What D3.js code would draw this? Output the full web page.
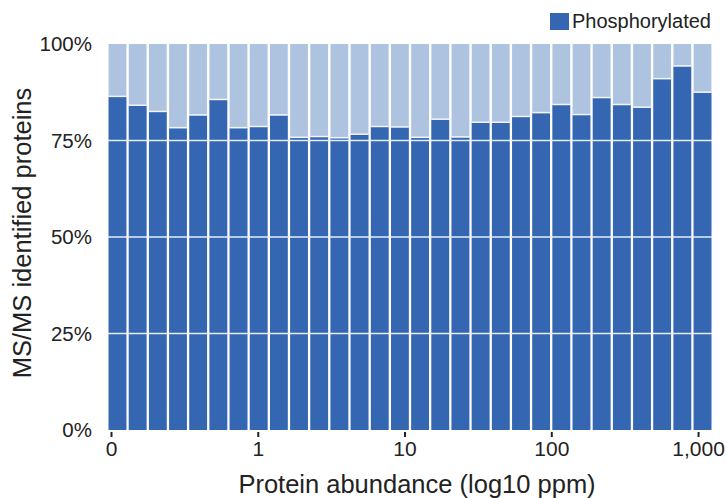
<!DOCTYPE html>
<html>
<head>
<meta charset="utf-8">
<script src="https://cdn.jsdelivr.net/npm/d3@7"></script>
<style>
  body { margin: 0; background: #fff; }
  svg { font-family: "Liberation Sans", Arial, sans-serif; }
</style>
</head>
<body>
<svg id="viz" width="727" height="498"></svg>
<script>
// share of MS/MS identified proteins that are phosphorylated, per abundance bin (%)
const phospho = [86.3, 84.0, 82.4, 78.2, 81.5, 85.5, 78.2, 78.5, 81.5, 75.7,
  75.9, 75.6, 76.5, 78.5, 78.4, 75.7, 80.4, 75.8, 79.6, 79.6,
  81.1, 82.1, 84.2, 81.6, 86.0, 84.2, 83.5, 90.9, 94.2, 87.4];
const yTicks = [0, 25, 50, 75, 100];
const xTickValues = [0.1, 1, 10, 100, 1000];
const xTickLabels = ["0", "1", "10", "100", "1,000"];
const legendLabel = "Phosphorylated";

const darkBlue = "#3566b1";
const lightBlue = "#adc3df";

const svg = d3.select("#viz");
const margin = { left: 108, right: 15, top: 44, bottom: 68 };
const width = 727, height = 498;

const band = d3.scaleBand()
  .domain(d3.range(phospho.length))
  .range([margin.left, width - margin.right])
  .paddingInner(0.12)
  .paddingOuter(0.03);

// log axis: 0.1 sits at x=111, 1000 at x=698
const x = d3.scaleLog()
  .domain([Math.pow(10, -1.0204), Math.pow(10, 3.095)])
  .range([margin.left, width - margin.right]);

const y = d3.scaleLinear()
  .domain([0, 100])
  .range([height - margin.bottom, margin.top]);

// light background part (100%)
svg.append("g")
  .selectAll("rect")
  .data(phospho)
  .join("rect")
  .attr("x", (d, i) => band(i))
  .attr("width", band.bandwidth())
  .attr("y", y(100))
  .attr("height", y(0) - y(100))
  .attr("fill", lightBlue);

// phosphorylated part
svg.append("g")
  .selectAll("rect")
  .data(phospho)
  .join("rect")
  .attr("x", (d, i) => band(i))
  .attr("width", band.bandwidth())
  .attr("y", (d) => y(d))
  .attr("height", (d) => y(0) - y(d))
  .attr("fill", darkBlue);

// white line on top of each dark segment
svg.append("g")
  .selectAll("line")
  .data(phospho)
  .join("line")
  .attr("x1", (d, i) => band(i))
  .attr("x2", (d, i) => band(i) + band.bandwidth())
  .attr("y1", (d) => y(d) - 0.5)
  .attr("y2", (d) => y(d) - 0.5)
  .attr("stroke", "#f2f6fb")
  .attr("stroke-width", 1.5);

// grid lines drawn over the bars
svg.append("g")
  .selectAll("line")
  .data([25, 50, 75])
  .join("line")
  .attr("x1", margin.left)
  .attr("x2", width - margin.right)
  .attr("y1", (d) => y(d))
  .attr("y2", (d) => y(d))
  .attr("stroke", "#e6eef8")
  .attr("stroke-width", 1.5);

// y axis labels
const yAxis = svg.append("g")
  .attr("transform", `translate(${margin.left - 13},0)`)
  .call(d3.axisLeft(y).tickValues(yTicks).tickFormat((d) => d + "%").tickSize(0));
yAxis.select(".domain").remove();
yAxis.selectAll("text")
  .attr("font-size", 20.5)
  .attr("fill", "#222")
  .attr("font-family", "Liberation Sans, Arial, sans-serif");

// x axis
const xAxis = svg.append("g")
  .attr("transform", `translate(0,${y(0) + 2})`)
  .call(d3.axisBottom(x).tickValues(xTickValues)
    .tickFormat((d, i) => xTickLabels[i]).tickSize(5).tickPadding(4));
xAxis.select(".domain").remove();
xAxis.selectAll(".tick line").attr("stroke", "#222").attr("stroke-width", 2);
xAxis.selectAll("text")
  .attr("font-size", 21)
  .attr("fill", "#222")
  .attr("font-family", "Liberation Sans, Arial, sans-serif");

// axis titles
svg.append("text")
  .attr("x", 417)
  .attr("y", 493)
  .attr("text-anchor", "middle")
  .attr("font-size", 25.5)
  .attr("fill", "#222")
  .text("Protein abundance (log10 ppm)");

svg.append("text")
  .attr("transform", `translate(31,${(y(0) + y(100)) / 2 - 4}) rotate(-90)`)
  .attr("text-anchor", "middle")
  .attr("font-size", 25.5)
  .attr("fill", "#222")
  .text("MS/MS identified proteins");

// legend
const legend = svg.append("g").attr("transform", "translate(550,13)");
legend.append("rect")
  .attr("width", 19)
  .attr("height", 17)
  .attr("fill", darkBlue);
legend.append("text")
  .attr("x", 22)
  .attr("y", 15)
  .attr("font-size", 20)
  .attr("fill", "#222")
  .text(legendLabel);
</script>
</body>
</html>
